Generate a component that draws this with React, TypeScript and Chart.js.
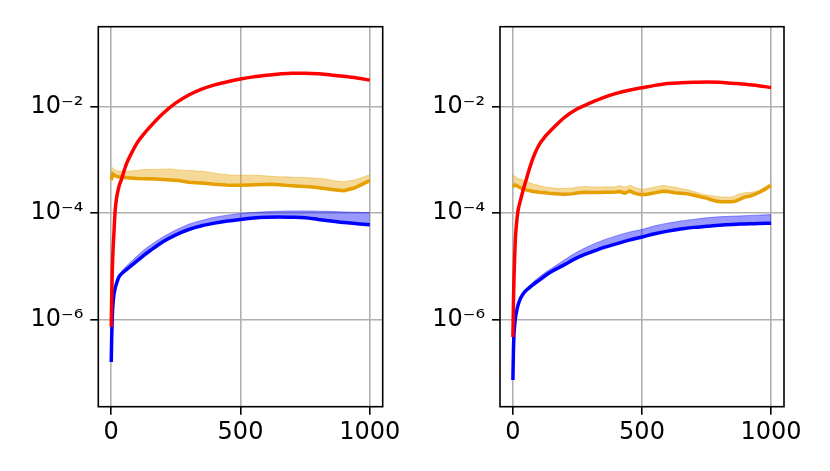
import React, { useEffect, useRef } from 'react';
import { Chart, registerables } from 'chart.js';

Chart.register(...registerables);

// iteration steps used for the smooth curves (both panels)
const smoothSteps = [0, 2, 4, 7, 10, 15, 20, 30, 40, 50, 60, 80, 100, 125, 150, 200, 250, 300, 350, 400, 450, 500, 550, 600, 650, 700, 750, 800, 850, 900, 950, 1000];

// values are read as log10 of the y value (log axis)
const leftRedLog = [-6.14, -5.55, -5.1, -4.7, -4.42, -3.97, -3.74, -3.5, -3.36, -3.2, -3.06, -2.86, -2.68, -2.52, -2.38, -2.13, -1.93, -1.78, -1.67, -1.59, -1.53, -1.48, -1.44, -1.41, -1.385, -1.37, -1.37, -1.38, -1.405, -1.43, -1.46, -1.5];
const leftBlueLog = [-6.8, -6.3, -5.98, -5.7, -5.55, -5.42, -5.33, -5.2, -5.14, -5.1, -5.06, -4.98, -4.9, -4.8, -4.71, -4.54, -4.41, -4.31, -4.24, -4.19, -4.15, -4.12, -4.095, -4.08, -4.075, -4.08, -4.09, -4.12, -4.15, -4.18, -4.2, -4.22];
const leftBlueUpperLog = [-6.8, -6.3, -5.98, -5.7, -5.55, -5.42, -5.33, -5.19, -5.1, -5.04, -4.99, -4.9, -4.81, -4.7, -4.61, -4.45, -4.32, -4.21, -4.14, -4.08, -4.04, -4.01, -3.99, -3.975, -3.965, -3.96, -3.96, -3.965, -3.97, -3.98, -3.985, -3.99];

const rightRedLog = [-6.33, -5.7, -5.25, -4.8, -4.45, -4.15, -3.95, -3.75, -3.56, -3.4, -3.23, -2.94, -2.73, -2.56, -2.43, -2.2, -2.04, -1.93, -1.83, -1.75, -1.69, -1.645, -1.6, -1.565, -1.55, -1.54, -1.535, -1.54, -1.56, -1.58, -1.605, -1.64];
const rightBlueLog = [-7.14, -6.6, -6.3, -6.1, -5.97, -5.83, -5.73, -5.6, -5.52, -5.46, -5.42, -5.34, -5.27, -5.18, -5.1, -4.97, -4.84, -4.74, -4.65, -4.58, -4.51, -4.45, -4.39, -4.34, -4.3, -4.27, -4.25, -4.23, -4.215, -4.205, -4.195, -4.19];
const rightBlueUpperLog = [-7.14, -6.6, -6.3, -6.1, -5.97, -5.83, -5.73, -5.6, -5.51, -5.43, -5.38, -5.29, -5.21, -5.12, -5.04, -4.88, -4.73, -4.61, -4.51, -4.43, -4.36, -4.31, -4.24, -4.19, -4.15, -4.12, -4.09, -4.07, -4.06, -4.05, -4.04, -4.03];

// noisier orange series
const leftOrangeSteps = [0, 6, 15, 25, 50, 75, 100, 130, 170, 200, 230, 260, 300, 330, 360, 400, 430, 460, 500, 530, 560, 590, 620, 650, 680, 710, 750, 780, 810, 840, 870, 900, 940, 970, 1000];
const leftOrangeLog = [-3.38, -3.27, -3.3, -3.32, -3.33, -3.34, -3.35, -3.355, -3.36, -3.37, -3.38, -3.39, -3.42, -3.43, -3.44, -3.46, -3.47, -3.48, -3.48, -3.475, -3.47, -3.465, -3.46, -3.47, -3.48, -3.49, -3.5, -3.51, -3.53, -3.55, -3.565, -3.58, -3.53, -3.46, -3.39];
const leftOrangeUpperLog = [-3.15, -3.15, -3.19, -3.21, -3.22, -3.21, -3.2, -3.18, -3.18, -3.175, -3.17, -3.19, -3.2, -3.21, -3.22, -3.25, -3.27, -3.285, -3.29, -3.29, -3.29, -3.3, -3.31, -3.32, -3.32, -3.33, -3.33, -3.34, -3.35, -3.37, -3.4, -3.41, -3.38, -3.33, -3.28];

const rightOrangeSteps = [0, 9, 20, 35, 55, 75, 100, 125, 150, 176, 200, 228, 255, 279, 305, 331, 360, 382, 400, 414, 425, 434, 445, 453, 465, 480, 500, 520, 540, 560, 582, 605, 627, 650, 678, 705, 730, 750, 768, 790, 807, 830, 846, 860, 871, 897, 920, 936, 955, 974, 1000];
const rightOrangeLog = [-3.51, -3.47, -3.5, -3.54, -3.57, -3.59, -3.61, -3.62, -3.635, -3.64, -3.645, -3.64, -3.62, -3.61, -3.615, -3.615, -3.61, -3.61, -3.605, -3.595, -3.615, -3.625, -3.605, -3.585, -3.615, -3.64, -3.655, -3.645, -3.63, -3.61, -3.59, -3.6, -3.62, -3.63, -3.64, -3.67, -3.7, -3.72, -3.75, -3.78, -3.79, -3.79, -3.79, -3.78, -3.76, -3.7, -3.68, -3.65, -3.61, -3.56, -3.48];
const rightOrangeUpperLog = [-3.29, -3.31, -3.35, -3.37, -3.41, -3.45, -3.48, -3.51, -3.525, -3.54, -3.535, -3.53, -3.51, -3.5, -3.51, -3.51, -3.505, -3.51, -3.5, -3.485, -3.5, -3.51, -3.495, -3.475, -3.5, -3.53, -3.555, -3.54, -3.52, -3.5, -3.48, -3.5, -3.51, -3.54, -3.56, -3.6, -3.64, -3.66, -3.67, -3.69, -3.7, -3.7, -3.7, -3.68, -3.65, -3.62, -3.61, -3.6, -3.57, -3.51, -3.44];

const xTickValues = [0, 500, 1000];
const xTickLabels = ['0', '500', '1000'];
const yTickValues = [1e-6, 1e-4, 1e-2];
const yTickLabels = ['10⁻⁶', '10⁻⁴', '10⁻²'];

const RED = '#ff0000';
const BLUE = '#0000ff';
const ORANGE = '#e69f00';
const BLUE_BAND = 'rgba(0, 0, 255, 0.4)';
const ORANGE_BAND = 'rgba(230, 159, 0, 0.4)';

const toPoints = (steps: number[], logs: number[]) =>
  steps.map((x, i) => ({ x, y: Math.pow(10, logs[i]) }));

// matplotlib-style box around the axes
const framePlugin = {
  id: 'frame',
  afterDatasetsDraw(chart: any) {
    const { ctx, chartArea } = chart;
    ctx.save();
    ctx.strokeStyle = '#000';
    ctx.lineWidth = 1.6;
    ctx.strokeRect(chartArea.left, chartArea.top, chartArea.right - chartArea.left, chartArea.bottom - chartArea.top);
    ctx.restore();
  },
};

type PanelProps = {
  left: number;
  axisWidth: number;
  padRight: number;
  red: number[];
  blue: number[];
  blueUpper: number[];
  orangeSteps: number[];
  orange: number[];
  orangeUpper: number[];
};

const Panel = ({ left, axisWidth, padRight, red, blue, blueUpper, orangeSteps, orange, orangeUpper }: PanelProps) => {
  const chartRef = useRef<HTMLCanvasElement>(null);
  const chartInstance = useRef<Chart | null>(null);

  useEffect(() => {
    if (!chartRef.current) return;
    if (chartInstance.current) chartInstance.current.destroy();

    const lineStyle = { pointRadius: 0, borderWidth: 3.5, fill: false };
    const font = { family: 'DejaVu Sans', size: 24 };

    chartInstance.current = new Chart(chartRef.current, {
      type: 'line',
      data: {
        datasets: [
          { ...lineStyle, data: toPoints(smoothSteps, red), borderColor: RED, cubicInterpolationMode: 'monotone', order: 0 },
          { ...lineStyle, data: toPoints(orangeSteps, orange), borderColor: ORANGE, order: 1 },
          { data: toPoints(orangeSteps, orangeUpper), borderColor: ORANGE_BAND, backgroundColor: ORANGE_BAND, borderWidth: 1, pointRadius: 0, fill: 1, order: 3 },
          { ...lineStyle, data: toPoints(smoothSteps, blue), borderColor: BLUE, cubicInterpolationMode: 'monotone', order: 2 },
          { data: toPoints(smoothSteps, blueUpper), borderColor: BLUE_BAND, backgroundColor: BLUE_BAND, borderWidth: 1, pointRadius: 0, fill: 3, cubicInterpolationMode: 'monotone', order: 4 },
        ] as any,
      },
      options: {
        animation: false,
        responsive: false,
        events: [],
        layout: { padding: { left: 0, top: 26.7, right: padRight, bottom: 0 } },
        plugins: { legend: { display: false }, tooltip: { enabled: false } },
        scales: {
          x: {
            type: 'linear',
            min: -50,
            max: 1050,
            afterBuildTicks: (axis: any) => {
              axis.ticks = xTickValues.map((value) => ({ value }));
            },
            afterFit: (scale: any) => {
              scale.height = 64.3;
            },
            border: { display: false },
            grid: { color: '#b0b0b0', lineWidth: 1.6, tickColor: '#000', tickWidth: 1.6, tickLength: 8 },
            ticks: { color: '#000', font, padding: 4, maxRotation: 0, autoSkip: false, callback: (_v: any, i: number) => xTickLabels[i] },
          },
          y: {
            type: 'logarithmic',
            min: 2.28e-8,
            max: 0.319,
            afterBuildTicks: (axis: any) => {
              axis.ticks = yTickValues.map((value) => ({ value }));
            },
            afterFit: (scale: any) => {
              scale.width = axisWidth;
            },
            border: { display: false },
            grid: { color: '#b0b0b0', lineWidth: 1.6, tickColor: '#000', tickWidth: 1.6, tickLength: 8 },
            ticks: { color: '#000', font, padding: 7, autoSkip: false, callback: (_v: any, i: number) => yTickLabels[i] },
          },
        },
      },
      plugins: [framePlugin],
    });

    return () => {
      if (chartInstance.current) {
        chartInstance.current.destroy();
        chartInstance.current = null;
      }
    };
  }, []);

  return (
    <div style={{ position: 'absolute', left, top: 0, width: 415, height: 471 }}>
      <canvas ref={chartRef} width={415} height={471} style={{ width: 415, height: 471 }} />
    </div>
  );
};

export default function App() {
  useEffect(() => {
    document.body.style.margin = '0';
  }, []);

  return (
    <div style={{ position: 'relative', width: 830, height: 471, background: '#fff' }}>
      <Panel left={0} axisWidth={98.3} padRight={32.3} red={leftRedLog} blue={leftBlueLog} blueUpper={leftBlueUpperLog}
        orangeSteps={leftOrangeSteps} orange={leftOrangeLog} orangeUpper={leftOrangeUpperLog} />
      <Panel left={415} axisWidth={85} padRight={46} red={rightRedLog} blue={rightBlueLog} blueUpper={rightBlueUpperLog}
        orangeSteps={rightOrangeSteps} orange={rightOrangeLog} orangeUpper={rightOrangeUpperLog} />
    </div>
  );
}
